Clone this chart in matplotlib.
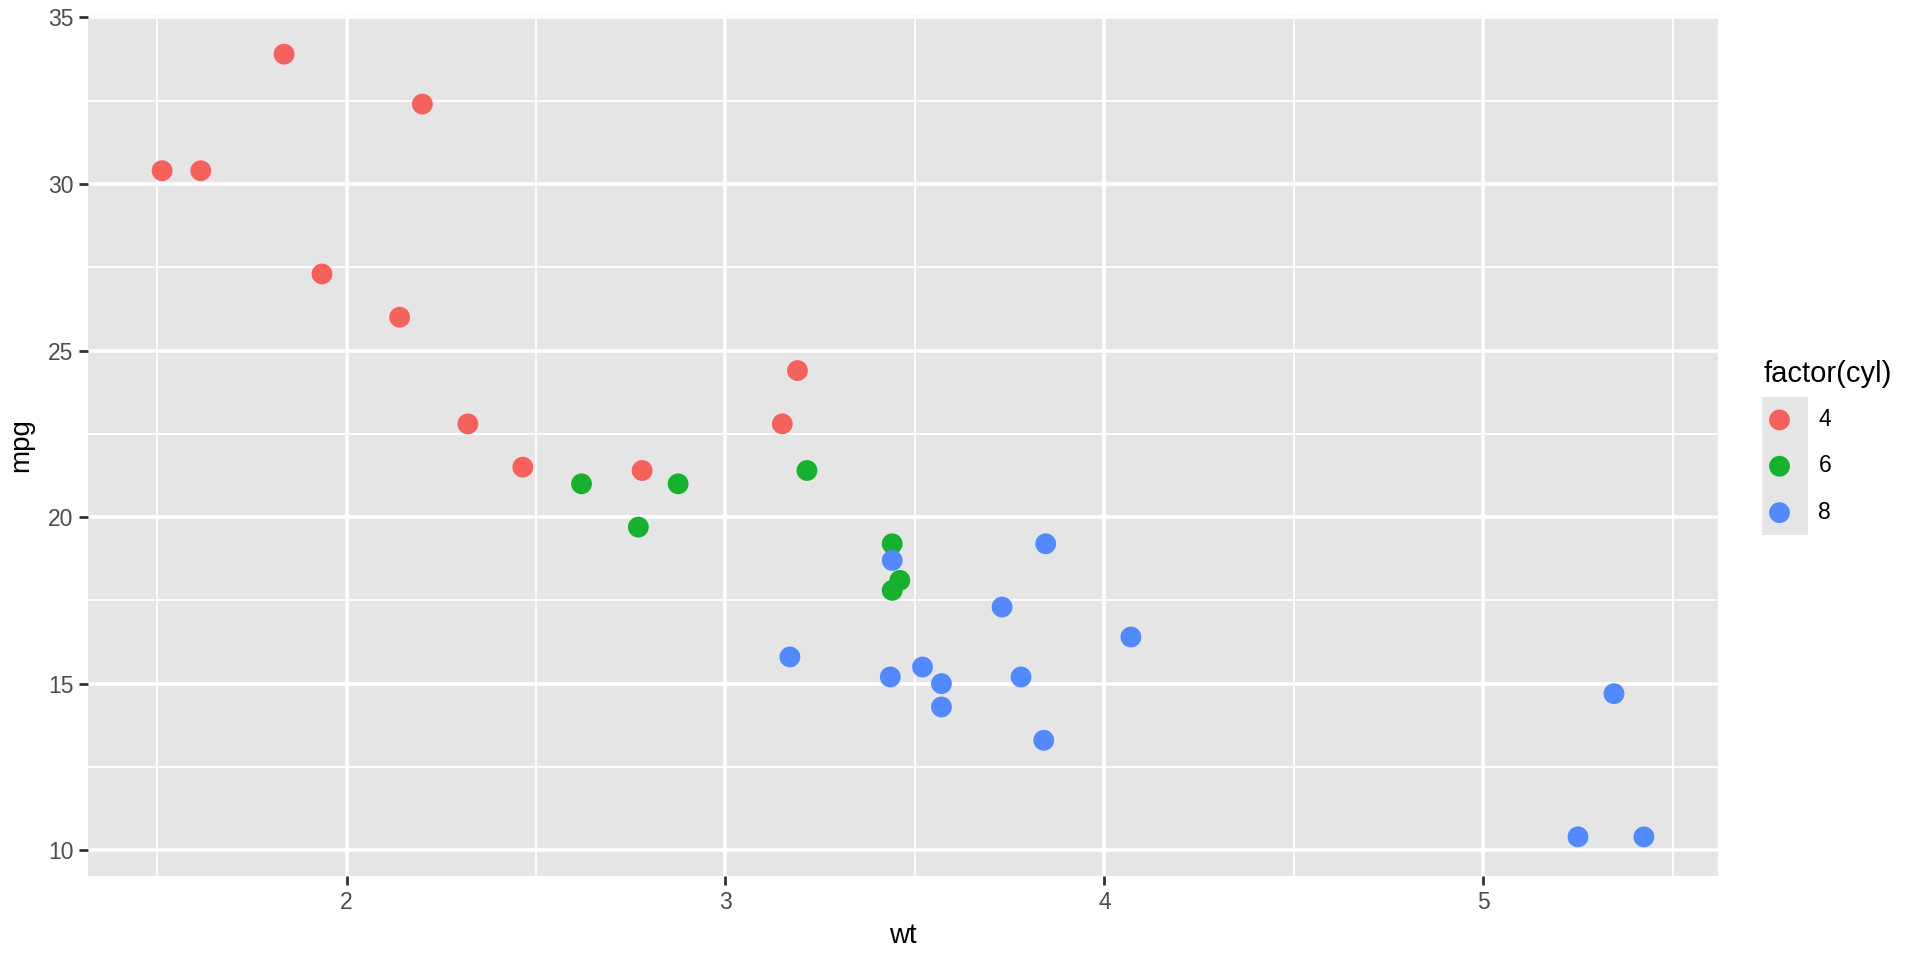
import numpy as np
import matplotlib.pyplot as plt
from matplotlib.ticker import MultipleLocator

# mtcars: weight (1000 lbs), miles per gallon, cylinders
wt = [2.620, 2.875, 2.320, 3.215, 3.440, 3.460, 3.570, 3.190, 3.150, 3.440,
      3.440, 4.070, 3.730, 3.780, 5.250, 5.424, 5.345, 2.200, 1.615, 1.835,
      2.465, 3.520, 3.435, 3.840, 3.845, 1.935, 2.140, 1.513, 3.170, 2.770,
      3.570, 2.780]
mpg = [21.0, 21.0, 22.8, 21.4, 18.7, 18.1, 14.3, 24.4, 22.8, 19.2,
       17.8, 16.4, 17.3, 15.2, 10.4, 10.4, 14.7, 32.4, 30.4, 33.9,
       21.5, 15.5, 15.2, 13.3, 19.2, 27.3, 26.0, 30.4, 15.8, 19.7,
       15.0, 21.4]
cyl = [6, 6, 4, 6, 8, 6, 8, 4, 4, 6,
       6, 8, 8, 8, 8, 8, 8, 4, 4, 4,
       4, 8, 8, 8, 8, 4, 4, 4, 8, 6,
       8, 4]
levels = [4, 6, 8]
colors = ['#F5625D', '#18B12F', '#5289FF']

plt.rcParams['font.family'] = ['Liberation Sans', 'DejaVu Sans']

wt = np.array(wt)
mpg = np.array(mpg)
cyl = np.array(cyl)

fig = plt.figure(figsize=(19.2, 9.6), dpi=100)
ax = fig.add_axes([88 / 1920, 84 / 960, 1630 / 1920, 861 / 960])
ax.set_facecolor('#E5E5E5')

handles = []
for lev, col in zip(levels, colors):
    m = cyl == lev
    h = ax.scatter(wt[m], mpg[m], s=225, color=col, edgecolors='none', zorder=3)
    handles.append(h)

# ggplot-style 5% expansion
xr = wt.max() - wt.min()
yr = mpg.max() - mpg.min()
ax.set_xlim(wt.min() - 0.05 * xr, wt.max() + 0.05 * xr)
ax.set_ylim(mpg.min() - 0.05 * yr, mpg.max() + 0.05 * yr)

ax.xaxis.set_major_locator(MultipleLocator(1))
ax.xaxis.set_minor_locator(MultipleLocator(0.5))
ax.yaxis.set_major_locator(MultipleLocator(5))
ax.yaxis.set_minor_locator(MultipleLocator(2.5))
ax.grid(which='major', color='white', linewidth=2.6, zorder=1)
ax.grid(which='minor', color='white', linewidth=1.3, zorder=1)
ax.set_axisbelow(True)
for s in ax.spines.values():
    s.set_visible(False)

ax.tick_params(which='major', length=6.5, width=2, color='#333333',
               labelsize=16.5, labelcolor='#4D4D4D', pad=4)
ax.tick_params(which='minor', length=0)

ax.set_xlabel('wt', fontsize=20, color='black', labelpad=7)
ax.set_ylabel('mpg', fontsize=20, color='black', labelpad=10)

leg = fig.legend(handles, [str(l) for l in levels], title='factor(cyl)',
                 loc='upper left', bbox_to_anchor=(1752 / 1920, 1 - 349 / 960),
                 frameon=False, fontsize=16.5, title_fontsize=21,
                 markerscale=1.0, handletextpad=1.0, labelspacing=1.02,
                 borderpad=0.0, handlelength=1.4)
leg._legend_box.align = 'left'
leg._legend_box.sep = 14

# grey key background behind legend markers
fig.patches.append(plt.Rectangle((1762 / 1920, 1 - 535 / 960), 46 / 1920, 138 / 960,
                                 transform=fig.transFigure, facecolor='#E5E5E5',
                                 edgecolor='none', zorder=0))

fig.savefig('out.png', dpi=100, facecolor='white')
